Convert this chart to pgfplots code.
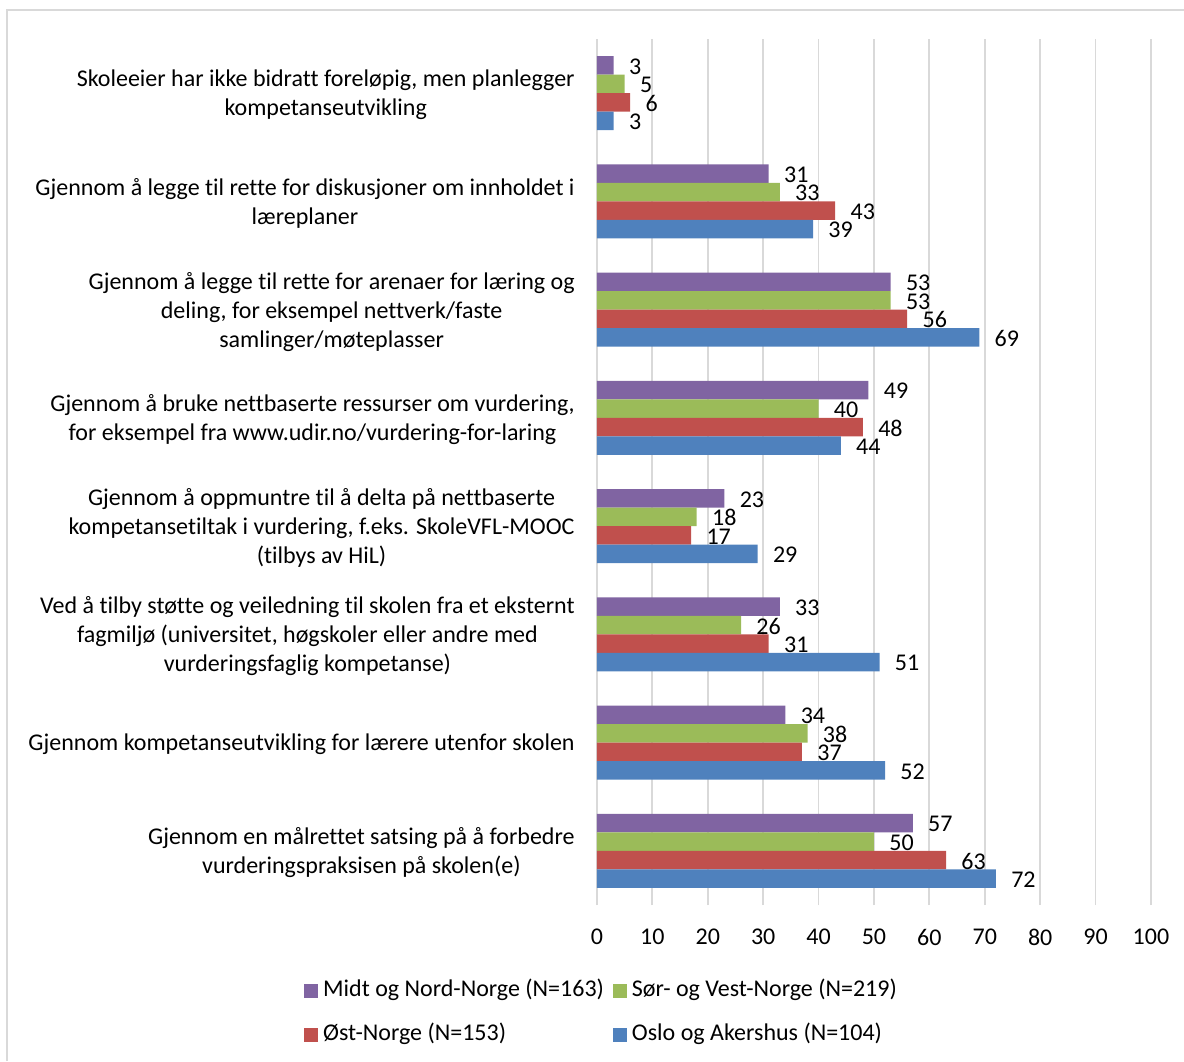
\documentclass[border=0pt]{standalone}
\usepackage{fontspec}
\setmainfont{Carlito}[Ligatures=NoCommon]
\usepackage{pgfplots}
\pgfplotsset{compat=1.18}

\definecolor{midt}{HTML}{8064A2}
\definecolor{sor}{HTML}{9BBB59}
\definecolor{ost}{HTML}{C0504D}
\definecolor{oslo}{HTML}{4F81BD}
\definecolor{gridgray}{HTML}{D9D9D9}
\newcommand{\chartfont}{\fontsize{12}{14.5}\selectfont}

% index 0 = bottom category, 7 = top category
\pgfplotstableread{
y midt sor ost oslo
0 57 50 63 72
1 34 38 37 52
2 33 26 31 51
3 23 18 17 29
4 49 40 48 44
5 53 53 56 69
6 31 33 43 39
7 3  5  6  3
}\datatable

\begin{document}
\chartfont
\begin{tikzpicture}
\useasboundingbox (-298.5pt,-78pt) rectangle (293.5pt,452.5pt);
\draw[line width=1pt, gridgray] (-295pt,-78pt) -- (-295pt,447.5pt) -- (293.5pt,447.5pt);
\begin{axis}[
  at={(0,0)}, anchor=south west,
  scale only axis,
  width=277pt, height=433pt,
  xbar, bar width=9.25pt,
  xmin=0, xmax=100, xtick={0,10,...,100},
  ymin=-0.5, ymax=7.5, ytick={0,...,7},
  yticklabels={
    {Gjennom en målrettet satsing på å forbedre\\vurderingspraksisen på skolen(e)},
    {Gjennom kompetanseutvikling for lærere utenfor skolen},
    {Ved å tilby støtte og veiledning til skolen fra et eksternt\\fagmiljø (universitet, høgskoler eller andre med\\vurderingsfaglig kompetanse)},
    {Gjennom å oppmuntre til å delta på nettbaserte\\kompetansetiltak i vurdering, f.eks. SkoleVFL-MOOC\\(tilbys av HiL)},
    {Gjennom å bruke nettbaserte ressurser om vurdering,\\for eksempel fra www.udir.no/vurdering-for-laring},
    {Gjennom å legge til rette for arenaer for læring og\\deling, for eksempel nettverk/faste\\samlinger/møteplasser},
    {Gjennom å legge til rette for diskusjoner om innholdet i\\læreplaner},
    {Skoleeier har ikke bidratt foreløpig, men planlegger\\kompetanseutvikling}
  },
  yticklabel style={font=\chartfont, align=center, anchor=east, inner sep=0pt, xshift=-11pt, yshift=-1pt},
  xticklabel style={font=\chartfont, anchor=north, inner sep=0pt, yshift=-12pt},
  /pgf/number format/assume math mode=true,
  major tick length=0pt,
  axis line style={draw=none},
  xmajorgrids, grid style={gridgray, line width=0.9pt},
  point meta=x,
  nodes near coords,
  nodes near coords style={font=\chartfont, text=black, anchor=west, inner sep=0pt, xshift=7.5pt, yshift=-0.5pt},
  legend columns=2,
  legend cell align=left,
  legend style={draw=none, font=\chartfont, at={(0.0063,-0.1247)}, anchor=center,
    nodes={inner sep=0pt, text height=8pt, text depth=2.5pt},
    row sep=11.5pt,
    /tikz/every odd column/.append style={column sep=2.5pt},
    /tikz/every even column/.append style={column sep=4.5pt}},
  legend image code/.code={\fill[#1] (0pt,-3.5pt) rectangle (7pt,3.5pt);},
]
\addplot[fill=midt, draw=none, bar shift=13.875pt] table[x=midt, y=y] {\datatable};
\addlegendentry{Midt og Nord-Norge (N=163)}
\addplot[fill=sor, draw=none, bar shift=4.625pt] table[x=sor, y=y] {\datatable};
\addlegendentry{Sør- og Vest-Norge (N=219)}
\addplot[fill=ost, draw=none, bar shift=-4.625pt] table[x=ost, y=y] {\datatable};
\addlegendentry{Øst-Norge (N=153)}
\addplot[fill=oslo, draw=none, bar shift=-13.875pt] table[x=oslo, y=y] {\datatable};
\addlegendentry{Oslo og Akershus (N=104)}
\end{axis}
\end{tikzpicture}
\end{document}
